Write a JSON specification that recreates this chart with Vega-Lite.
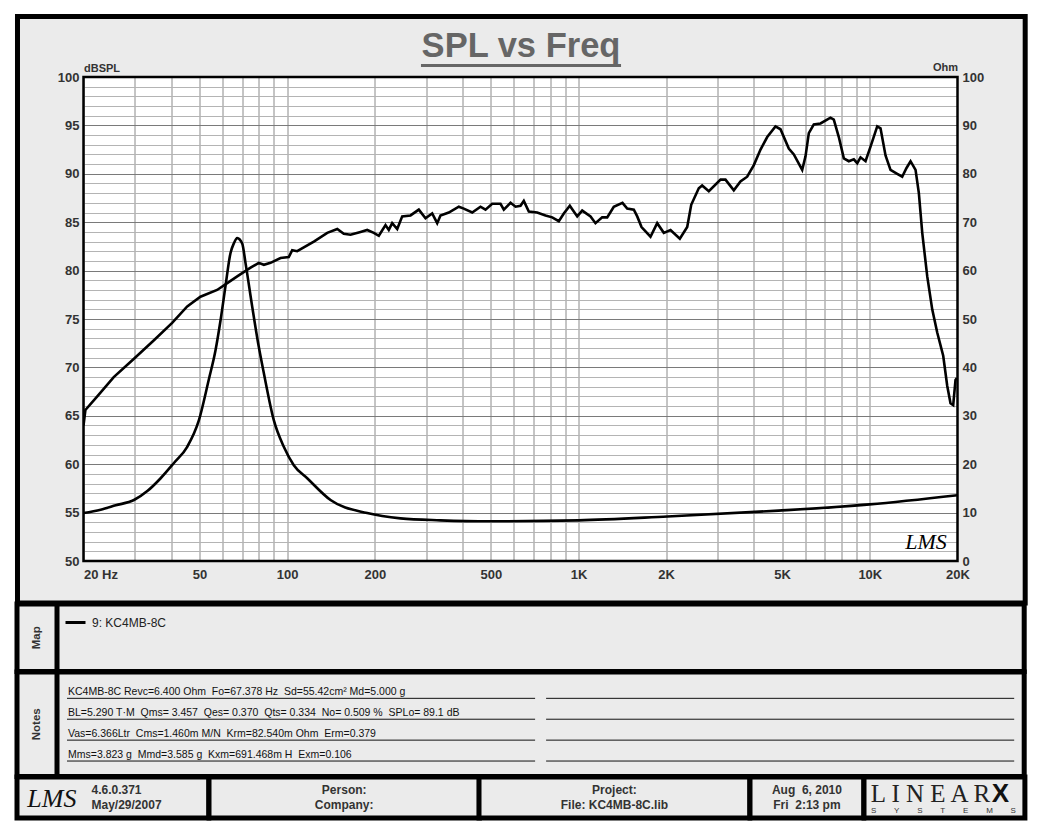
{
  "$schema": "https://vega.github.io/schema/vega-lite/v6.json",
  "background": "white",
  "padding": {"left": 14, "top": 14, "right": 0, "bottom": 0},
  "config": {
    "view": {"fill": "#ebebeb", "stroke": "black", "strokeWidth": 5},
    "font": "Liberation Sans",
    "concat": {"spacing": -5},
    "text": {"font": "Liberation Sans"}
  },
  "datasets": {
    "spl": [
      {"f":20,"spl":64.0},{"f":20.3,"spl":65.6},{"f":22.3,"spl":67.0},{"f":25.4,"spl":69.0},{"f":29.8,"spl":70.9},{"f":34.9,"spl":72.8},{"f":40.3,"spl":74.6},{"f":45.4,"spl":76.3},{"f":50.4,"spl":77.3},{"f":57.5,"spl":78.0},{"f":62.3,"spl":78.7},{"f":67.4,"spl":79.4},{"f":74.9,"spl":80.3},{"f":79.9,"spl":80.8},{"f":83.2,"spl":80.6},{"f":87.7,"spl":80.8},{"f":94.9,"spl":81.3},{"f":101.3,"spl":81.4},{"f":104.1,"spl":82.1},{"f":108.3,"spl":82.0},{"f":123.5,"spl":83.0},{"f":137.3,"spl":83.9},{"f":148.6,"spl":84.3},{"f":156.5,"spl":83.8},{"f":165,"spl":83.7},{"f":178.6,"spl":84.0},{"f":188.3,"spl":84.2},{"f":198.4,"spl":83.9},{"f":206.4,"spl":83.6},{"f":217.6,"spl":84.7},{"f":223.3,"spl":84.2},{"f":229.4,"spl":84.9},{"f":238.7,"spl":84.3},{"f":248.3,"spl":85.6},{"f":265.2,"spl":85.7},{"f":283.1,"spl":86.3},{"f":298.5,"spl":85.4},{"f":314.7,"spl":85.9},{"f":327.4,"spl":84.9},{"f":336,"spl":85.7},{"f":358.8,"spl":86.0},{"f":388.4,"spl":86.6},{"f":404,"spl":86.4},{"f":431.8,"spl":86.0},{"f":461,"spl":86.6},{"f":479.6,"spl":86.3},{"f":505.6,"spl":86.9},{"f":540,"spl":86.9},{"f":554.4,"spl":86.3},{"f":584.6,"spl":87.0},{"f":608.2,"spl":86.6},{"f":632.5,"spl":86.7},{"f":649.2,"spl":87.2},{"f":675.4,"spl":86.1},{"f":721.6,"spl":86.0},{"f":770.6,"spl":85.7},{"f":812.6,"spl":85.5},{"f":856.2,"spl":85.1},{"f":890.6,"spl":85.9},{"f":934,"spl":86.7},{"f":990.2,"spl":85.6},{"f":1030,"spl":86.2},{"f":1100,"spl":85.6},{"f":1144,"spl":84.9},{"f":1206,"spl":85.5},{"f":1255,"spl":85.5},{"f":1322,"spl":86.6},{"f":1416,"spl":87.0},{"f":1470,"spl":86.4},{"f":1549,"spl":86.3},{"f":1591,"spl":85.6},{"f":1646,"spl":84.5},{"f":1767,"spl":83.5},{"f":1863,"spl":84.9},{"f":1963,"spl":83.9},{"f":2070,"spl":84.2},{"f":2228,"spl":83.3},{"f":2362,"spl":84.5},{"f":2438,"spl":86.8},{"f":2588,"spl":88.5},{"f":2658,"spl":88.8},{"f":2802,"spl":88.2},{"f":3074,"spl":89.4},{"f":3196,"spl":89.4},{"f":3414,"spl":88.3},{"f":3598,"spl":89.2},{"f":3794,"spl":89.7},{"f":3999,"spl":90.9},{"f":4216,"spl":92.5},{"f":4445,"spl":93.8},{"f":4745,"spl":94.9},{"f":4937,"spl":94.6},{"f":5272,"spl":92.6},{"f":5486,"spl":92.0},{"f":5861,"spl":90.4},{"f":6016,"spl":91.8},{"f":6176,"spl":94.2},{"f":6424,"spl":95.1},{"f":6773,"spl":95.2},{"f":7329,"spl":95.8},{"f":7524,"spl":95.6},{"f":7828,"spl":93.8},{"f":8145,"spl":91.6},{"f":8472,"spl":91.3},{"f":8814,"spl":91.5},{"f":9055,"spl":91.1},{"f":9294,"spl":91.7},{"f":9669,"spl":91.3},{"f":10058,"spl":92.8},{"f":10604,"spl":94.9},{"f":10884,"spl":94.7},{"f":11324,"spl":91.9},{"f":11778,"spl":90.4},{"f":12420,"spl":90.0},{"f":12920,"spl":89.7},{"f":13368,"spl":90.6},{"f":13800,"spl":91.3},{"f":14356,"spl":90.4},{"f":14736,"spl":88.0},{"f":15136,"spl":83.9},{"f":15746,"spl":79.4},{"f":16378,"spl":76.0},{"f":17038,"spl":73.6},{"f":17864,"spl":71.2},{"f":18438,"spl":68.1},{"f":18924,"spl":66.3},{"f":19332,"spl":66.1},{"f":19688,"spl":68.7},{"f":19900,"spl":68.9}
    ],
    "imp": [
      {"f":20,"ohm":9.9},{"f":22.9,"ohm":10.6},{"f":25.8,"ohm":11.5},{"f":29.8,"ohm":12.6},{"f":33.2,"ohm":14.5},{"f":36.8,"ohm":17.1},{"f":40.8,"ohm":20.2},{"f":45.4,"ohm":23.6},{"f":49.8,"ohm":29.1},{"f":53.8,"ohm":37.4},{"f":56.8,"ohm":43.6},{"f":59.1,"ohm":49.8},{"f":61.4,"ohm":56.7},{"f":63.9,"ohm":63.6},{"f":65.6,"ohm":65.6},{"f":67.4,"ohm":66.7},{"f":70.1,"ohm":65.6},{"f":72.0,"ohm":61.5},{"f":75.9,"ohm":52.5},{"f":79.9,"ohm":44.3},{"f":83.2,"ohm":38.8},{"f":90.0,"ohm":29.1},{"f":97.4,"ohm":23.6},{"f":105.4,"ohm":19.8},{"f":117.2,"ohm":17.1},{"f":140.9,"ohm":12.6},{"f":188.3,"ohm":9.9},{"f":245,"ohm":8.8},{"f":336,"ohm":8.4},{"f":499,"ohm":8.2},{"f":1000,"ohm":8.4},{"f":2021,"ohm":9.2},{"f":4860,"ohm":10.4},{"f":9978,"ohm":11.7},{"f":20000,"ohm":13.6}
    ]
  },
  "concat": [
    {
      "concat": [
        {
          "width": 10, "height": 1,
          "view": {"stroke": null, "fill": null},
          "data": {"values": []},
          "mark": {"type": "text"},
          "encoding": {"text": {"field": "t"}}
        },
        {
          "width": 874,
          "height": 484,
          "view": {"fill": "white", "stroke": null},
          "resolve": {"scale": {"x": "independent", "y": "independent"}, "axis": {"x": "independent", "y": "independent"}},
          "layer": [
            {
              "data": {"name": "spl"},
              "mark": {"type": "line", "color": "black", "strokeWidth": 2.6},
              "encoding": {
                "x": {"field": "f", "type": "quantitative", "scale": {"type": "log", "domain": [20, 20000], "nice": false},
                  "axis": {"orient": "bottom", "values": [20, 50, 100, 200, 500, 1000, 2000, 5000, 10000, 20000],
                    "labelExpr": "datum.value == 20 ? '20 Hz' : (datum.value >= 1000 ? (datum.value / 1000) + 'K' : datum.label)",
                    "labelAlign": {"condition": {"test": "datum.value == 20", "value": "left"}, "value": "center"},
                    "labelFlush": false, "labelOverlap": false, "labelBound": false,
                    "grid": false, "ticks": false, "tickSize": 0, "domain": false, "title": null,
                    "labelFont": "Liberation Sans", "labelFontSize": 13, "labelFontWeight": "bold", "labelColor": "#333333", "labelPadding": 7, "zindex": 1}},
                "y": {"field": "spl", "type": "quantitative", "scale": {"domain": [50, 100], "nice": false, "zero": false},
                  "axis": {"orient": "left", "values": [50, 55, 60, 65, 70, 75, 80, 85, 90, 95, 100],
                    "grid": false, "ticks": false, "tickSize": 0, "domain": false, "labelOverlap": false,
                    "labelFont": "Liberation Sans", "labelFontSize": 13, "labelFontWeight": "bold", "labelColor": "#333333", "labelPadding": 4.5,
                    "title": "dBSPL", "titleAngle": 0, "titleAlign": "left", "titleBaseline": "alphabetic", "titleX": 0, "titleY": -6,
                    "titleFont": "Liberation Sans", "titleFontSize": 11, "titleFontWeight": "bold", "titleColor": "#333333", "zindex": 1}}
              }
            },
            {
              "data": {"values": [{}]},
              "mark": {"type": "rect", "color": "#ebebeb"},
              "encoding": {"x": {"datum": 11.87, "type": "quantitative", "scale": {"type": "log", "domain": [20, 20000], "nice": false}, "axis": null}, "x2": {"datum": 34150}, "y": {"datum": 100, "type": "quantitative", "scale": {"domain": [50, 100], "nice": false, "zero": false}, "axis": null}, "y2": {"datum": 106.25}}
            },
            {
              "data": {"values": [{}]},
              "mark": {"type": "rect", "color": "#ebebeb"},
              "encoding": {"x": {"datum": 11.87, "type": "quantitative", "scale": {"type": "log", "domain": [20, 20000], "nice": false}, "axis": null}, "x2": {"datum": 34150}, "y": {"datum": 45.66, "type": "quantitative", "scale": {"domain": [50, 100], "nice": false, "zero": false}, "axis": null}, "y2": {"datum": 50}}
            },
            {
              "data": {"values": [{}]},
              "mark": {"type": "rect", "color": "#ebebeb"},
              "encoding": {"x": {"datum": 11.87, "type": "quantitative", "scale": {"type": "log", "domain": [20, 20000], "nice": false}, "axis": null}, "x2": {"datum": 20}, "y": {"datum": 50, "type": "quantitative", "scale": {"domain": [50, 100], "nice": false, "zero": false}, "axis": null}, "y2": {"datum": 100}}
            },
            {
              "data": {"values": [{}]},
              "mark": {"type": "rect", "color": "#ebebeb"},
              "encoding": {"x": {"datum": 20000, "type": "quantitative", "scale": {"type": "log", "domain": [20, 20000], "nice": false}, "axis": null}, "x2": {"datum": 34150}, "y": {"datum": 50, "type": "quantitative", "scale": {"domain": [50, 100], "nice": false, "zero": false}, "axis": null}, "y2": {"datum": 100}}
            },
            {
              "data": {"values": [{"t": "SPL vs Freq"}]},
              "mark": {"type": "text", "font": "Liberation Sans", "fontSize": 34.5, "fontWeight": "bold", "color": "#666666", "align": "center", "baseline": "alphabetic"},
              "encoding": {"x": {"datum": 635, "type": "quantitative", "scale": {"type": "log", "domain": [20, 20000], "nice": false}, "axis": null}, "y": {"datum": 102.1, "type": "quantitative", "scale": {"domain": [50, 100], "nice": false, "zero": false}, "axis": null}, "text": {"field": "t"}}
            },
            {
              "data": {"values": [{}]},
              "mark": {"type": "rule", "color": "#666666", "strokeWidth": 3},
              "encoding": {"x": {"datum": 288, "type": "quantitative", "scale": {"type": "log", "domain": [20, 20000], "nice": false}, "axis": null}, "x2": {"datum": 1400}, "y": {"datum": 101.2, "type": "quantitative", "scale": {"domain": [50, 100], "nice": false, "zero": false}, "axis": null}}
            },
            {
              "data": {"values": [{"sig": "LMS"}]},
              "mark": {"type": "text", "font": "Liberation Serif", "fontStyle": "italic", "fontSize": 22, "color": "black", "baseline": "middle", "align": "center"},
              "encoding": {"x": {"datum": 15600, "type": "quantitative", "scale": {"type": "log", "domain": [20, 20000], "nice": false}, "axis": null}, "y": {"datum": 52, "type": "quantitative", "scale": {"domain": [50, 100], "nice": false, "zero": false}, "axis": null}, "text": {"field": "sig"}}
            },
            {
              "data": {"values": [{}]},
              "mark": {"type": "rect", "fill": "transparent", "stroke": "black", "strokeWidth": 2.5},
              "encoding": {
                "x": {"datum": 20, "type": "quantitative", "scale": {"type": "log", "domain": [20, 20000], "nice": false},
                  "axis": {"orient": "bottom", "values": [20, 30, 40, 50, 60, 70, 80, 90, 100, 200, 300, 400, 500, 600, 700, 800, 900, 1000, 2000, 3000, 4000, 5000, 6000, 7000, 8000, 9000, 10000, 20000],
                    "grid": true, "gridColor": "#8a8a8a", "gridWidth": 1, "labels": false, "ticks": false, "domain": false, "title": null, "zindex": 0}},
                "x2": {"datum": 20000},
                "y": {"datum": 50, "type": "quantitative", "scale": {"domain": [50, 100], "nice": false, "zero": false},
                  "axis": {"orient": "left", "values": [50,51,52,53,54,55,56,57,58,59,60,61,62,63,64,65,66,67,68,69,70,71,72,73,74,75,76,77,78,79,80,81,82,83,84,85,86,87,88,89,90,91,92,93,94,95,96,97,98,99,100],
                    "grid": true, "gridColor": {"condition": {"test": "datum.value % 5 === 0", "value": "#7a7a7a"}, "value": "#b4b4b4"}, "gridWidth": 1,
                    "labels": false, "ticks": false, "domain": false, "title": null, "zindex": 0}},
                "y2": {"datum": 100}
              }
            },
            {
              "data": {"values": [{}]},
              "mark": {"type": "rect", "fill": "transparent", "stroke": "black", "strokeWidth": 5},
              "encoding": {"x": {"datum": 11.87, "type": "quantitative", "scale": {"type": "log", "domain": [20, 20000], "nice": false}, "axis": null}, "x2": {"datum": 34150}, "y": {"datum": 45.66, "type": "quantitative", "scale": {"domain": [50, 100], "nice": false, "zero": false}, "axis": null}, "y2": {"datum": 106.25}}
            },
            {
              "data": {"name": "imp"},
              "mark": {"type": "line", "color": "black", "strokeWidth": 2.6, "interpolate": "monotone"},
              "encoding": {
                "x": {"field": "f", "type": "quantitative", "scale": {"type": "log", "domain": [20, 20000], "nice": false}, "axis": null},
                "y": {"field": "ohm", "type": "quantitative", "scale": {"domain": [0, 100], "nice": false},
                  "axis": {"orient": "right", "values": [0, 10, 20, 30, 40, 50, 60, 70, 80, 90, 100],
                    "grid": false, "ticks": false, "tickSize": 0, "domain": false, "labelOverlap": false,
                    "labelFont": "Liberation Sans", "labelFontSize": 13, "labelFontWeight": "bold", "labelColor": "#333333", "labelPadding": 4.5,
                    "title": "Ohm", "titleAngle": 0, "titleAlign": "right", "titleBaseline": "alphabetic", "titleX": 0, "titleY": -7,
                    "titleFont": "Liberation Sans", "titleFontSize": 11, "titleFontWeight": "bold", "titleColor": "#333333", "zindex": 1}}
              }
            }
          ]
        }
      ],
      "columns": 2,
      "align": "none",
      "spacing": -12.5
    },
    {
      "concat": [
        {
          "width": 40.5, "height": 67.5,
          "data": {"values": [{"t": "Map"}]},
          "mark": {"type": "text", "angle": 270, "fontSize": 11.5, "fontWeight": "bold", "color": "#333333", "align": "center", "baseline": "middle"},
          "encoding": {
            "x": {"datum": 0.5, "type": "quantitative", "scale": {"domain": [0, 1]}, "axis": null},
            "y": {"datum": 0.5, "type": "quantitative", "scale": {"domain": [0, 1]}, "axis": null},
            "text": {"field": "t"}
          }
        },
        {
          "width": 967.2, "height": 67.5,
          "data": {"values": [{"series": "9: KC4MB-8C"}]},
          "mark": {"type": "line", "strokeWidth": 3},
          "encoding": {
            "x": {"datum": 0.5, "type": "quantitative", "scale": {"domain": [0, 1]}, "axis": null},
            "y": {"datum": 0.5, "type": "quantitative", "scale": {"domain": [0, 1]}, "axis": null},
            "color": {"field": "series", "type": "nominal", "scale": {"range": ["black"]},
              "legend": {"title": null, "orient": "top-left", "offset": 7, "padding": 0, "symbolType": "stroke", "symbolSize": 400, "symbolStrokeWidth": 3,
                "labelFont": "Liberation Sans", "labelFontSize": 12, "labelColor": "#222222", "labelOffset": 5}}
          }
        }
      ],
      "columns": 2,
      "align": "none",
      "spacing": -6,
      "resolve": {"scale": {"color": "independent"}}
    },
    {
      "concat": [
        {
          "width": 40.5, "height": 104.5,
          "data": {"values": [{"t": "Notes"}]},
          "mark": {"type": "text", "angle": 270, "fontSize": 11.5, "fontWeight": "bold", "color": "#333333", "align": "center", "baseline": "middle"},
          "encoding": {
            "x": {"datum": 0.5, "type": "quantitative", "scale": {"domain": [0, 1]}, "axis": null},
            "y": {"datum": 0.5, "type": "quantitative", "scale": {"domain": [0, 1]}, "axis": null},
            "text": {"field": "t"}
          }
        },
        {
          "width": 967.2, "height": 104.5,
          "data": {"values": [
            {"row": 1, "col": "a", "text": "KC4MB-8C Revc=6.400 Ohm\u00a0 Fo=67.378 Hz\u00a0 Sd=55.42cm² Md=5.000 g"},
            {"row": 1, "col": "b", "text": ""},
            {"row": 2, "col": "a", "text": "BL=5.290 T·M\u00a0 Qms= 3.457\u00a0 Qes= 0.370\u00a0 Qts= 0.334\u00a0 No= 0.509 %\u00a0 SPLo= 89.1 dB"},
            {"row": 2, "col": "b", "text": ""},
            {"row": 3, "col": "a", "text": "Vas=6.366Ltr\u00a0 Cms=1.460m M/N\u00a0 Krm=82.540m Ohm\u00a0 Erm=0.379"},
            {"row": 3, "col": "b", "text": ""},
            {"row": 4, "col": "a", "text": "Mms=3.823 g\u00a0 Mmd=3.585 g\u00a0 Kxm=691.468m H\u00a0 Exm=0.106"},
            {"row": 4, "col": "b", "text": ""}
          ]},
          "encoding": {
            "y": {"field": "row", "type": "ordinal", "scale": {"type": "point", "padding": 1.028, "align": 0.63}, "axis": null},
            "x": {"field": "col", "type": "nominal", "bandPosition": 0, "scale": {"type": "band", "paddingInner": 0.02296, "paddingOuter": 0.02088}, "axis": null}
          },
          "layer": [
            {"mark": {"type": "rule", "color": "#111111", "strokeWidth": 1}, "encoding": {"x2": {"field": "col", "bandPosition": 1}}},
            {"mark": {"type": "text", "align": "left", "baseline": "alphabetic", "dx": 1, "dy": -3, "fontSize": 10.5, "color": "#111111"}, "encoding": {"text": {"field": "text"}}}
          ]
        }
      ],
      "columns": 2,
      "align": "none",
      "spacing": -6
    },
    {
      "concat": [
        {
          "width": 191.8, "height": 41,
          "data": {"values": [{"logo": "LMS", "info": "4.6.0.371\nMay/29/2007"}]},
          "encoding": {
            "x": {"datum": 0.5, "type": "quantitative", "scale": {"domain": [0, 1]}, "axis": null},
            "y": {"datum": 0.5, "type": "quantitative", "scale": {"domain": [0, 1]}, "axis": null}
          },
          "layer": [
            {"mark": {"type": "text", "font": "Liberation Serif", "fontStyle": "italic", "fontSize": 26, "color": "#111111", "align": "center", "baseline": "middle", "dx": -61, "dy": 1}, "encoding": {"text": {"field": "logo"}}},
            {"mark": {"type": "text", "lineBreak": "\n", "lineHeight": 14.5, "fontSize": 12, "fontWeight": "bold", "color": "#333333", "align": "left", "baseline": "middle", "dx": -21.4, "dy": -7.25}, "encoding": {"text": {"field": "info"}}}
          ]
        },
        {
          "width": 270.4, "height": 41,
          "data": {"values": [{"t": "Person:\nCompany:"}]},
          "mark": {"type": "text", "lineBreak": "\n", "lineHeight": 14.5, "fontSize": 12, "fontWeight": "bold", "color": "#333333", "align": "center", "baseline": "middle", "dy": -7.25},
          "encoding": {
            "x": {"datum": 0.5, "type": "quantitative", "scale": {"domain": [0, 1]}, "axis": null},
            "y": {"datum": 0.5, "type": "quantitative", "scale": {"domain": [0, 1]}, "axis": null},
            "text": {"field": "t"}
          }
        },
        {
          "width": 270.8, "height": 41,
          "data": {"values": [{"t": "Project:\nFile: KC4MB-8C.lib"}]},
          "mark": {"type": "text", "lineBreak": "\n", "lineHeight": 14.5, "fontSize": 12, "fontWeight": "bold", "color": "#333333", "align": "center", "baseline": "middle", "dy": -7.25},
          "encoding": {
            "x": {"datum": 0.5, "type": "quantitative", "scale": {"domain": [0, 1]}, "axis": null},
            "y": {"datum": 0.5, "type": "quantitative", "scale": {"domain": [0, 1]}, "axis": null},
            "text": {"field": "t"}
          }
        },
        {
          "width": 113.8, "height": 41,
          "data": {"values": [{"t": "Aug\u00a0 6, 2010\nFri\u00a0 2:13 pm"}]},
          "mark": {"type": "text", "lineBreak": "\n", "lineHeight": 14.5, "fontSize": 12, "fontWeight": "bold", "color": "#333333", "align": "center", "baseline": "middle", "dy": -7.25},
          "encoding": {
            "x": {"datum": 0.5, "type": "quantitative", "scale": {"domain": [0, 1]}, "axis": null},
            "y": {"datum": 0.5, "type": "quantitative", "scale": {"domain": [0, 1]}, "axis": null},
            "text": {"field": "t"}
          }
        },
        {
          "width": 160.9, "height": 41,
          "data": {"values": [{"a": "L I N E A R", "b": "X", "c": "S\u00a0\u00a0\u00a0\u00a0\u00a0\u00a0\u00a0\u00a0Y\u00a0\u00a0\u00a0\u00a0\u00a0\u00a0\u00a0\u00a0S\u00a0\u00a0\u00a0\u00a0\u00a0\u00a0\u00a0\u00a0T\u00a0\u00a0\u00a0\u00a0\u00a0\u00a0\u00a0\u00a0E\u00a0\u00a0\u00a0\u00a0\u00a0\u00a0\u00a0\u00a0M\u00a0\u00a0\u00a0\u00a0\u00a0\u00a0\u00a0\u00a0S"}]},
          "encoding": {
            "x": {"datum": 0.5, "type": "quantitative", "scale": {"domain": [0, 1]}, "axis": null},
            "y": {"datum": 0.5, "type": "quantitative", "scale": {"domain": [0, 1]}, "axis": null}
          },
          "layer": [
            {"mark": {"type": "text", "font": "Liberation Serif", "fontSize": 25, "color": "#222222", "align": "center", "baseline": "alphabetic", "dx": -14, "dy": 4.5}, "encoding": {"text": {"field": "a"}}},
            {"mark": {"type": "text", "font": "Liberation Sans", "fontWeight": "bold", "fontSize": 26, "color": "#111111", "align": "center", "baseline": "alphabetic", "dx": 56, "dy": 4.5}, "encoding": {"text": {"field": "b"}}},
            {"mark": {"type": "text", "font": "Liberation Sans", "fontSize": 8, "color": "#333333", "align": "center", "baseline": "alphabetic", "dx": -1, "dy": 15}, "encoding": {"text": {"field": "c"}}}
          ]
        }
      ],
      "columns": 5,
      "align": "none",
      "spacing": -6
    }
  ],
  "columns": 1,
  "align": "none",
  "spacing": -5,
  "resolve": {"scale": {"color": "independent"}}
}
